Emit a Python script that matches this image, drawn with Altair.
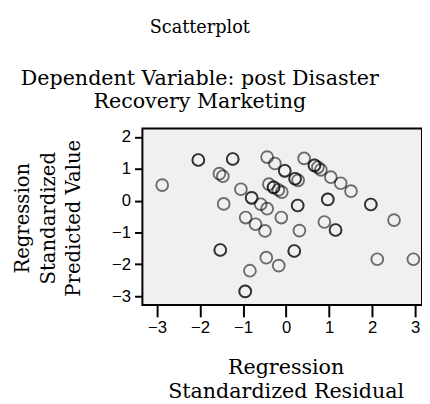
import altair as alt
import pandas as pd

# Regression standardized residual (x) and predicted value (y); repeated rows = overlapping cases
resid = [-2.88, -2.04, -2.04, -1.24, -1.24, -1.55, -1.47, -1.45, -1.53, -1.53,
         -1.05, -0.80, -0.80, -0.59, -0.44, -0.11, -0.94, -0.71, -0.49,
         -0.84, -0.95, -0.95, -0.46, -0.17,
         -0.44, -0.26, -0.03, -0.03, 0.21, 0.21, 0.28,
         -0.40, -0.29, -0.18, -0.10, -0.29,
         0.27, 0.27, 0.31, 0.19, 0.19,
         0.42, 0.66, 0.66, 0.74, 0.81, 1.04, 1.27, 1.51,
         0.97, 0.97, 0.89, 1.15, 1.15, 1.97, 1.97, 2.51, 2.12, 2.96]
pred = [0.49, 1.28, 1.28, 1.31, 1.31, 0.85, 0.77, -0.10, -1.55, -1.55,
        0.36, 0.09, 0.09, -0.11, -0.25, -0.53, -0.53, -0.74, -0.95,
        -2.20, -2.85, -2.85, -1.79, -2.04,
        1.37, 1.17, 0.94, 0.94, 0.69, 0.69, 0.64,
        0.52, 0.42, 0.34, 0.27, 0.42,
        -0.15, -0.15, -0.94, -1.58, -1.58,
        1.33, 1.11, 1.11, 1.05, 0.97, 0.74, 0.55, 0.30,
        0.04, 0.04, -0.67, -0.92, -0.92, -0.12, -0.12, -0.61, -1.84, -1.84]

x_ticks = [-3, -2, -1, 0, 1, 2, 3]
y_ticks = [2, 1, 0, -1, -2, -3]

df = pd.DataFrame({"resid": resid, "pred": pred})

serif = "DejaVu Serif"
sans = "Liberation Sans"

chart = alt.Chart(df).mark_point(
    shape="circle", filled=False, size=145, stroke="black",
    strokeWidth=1.9, strokeOpacity=0.78
).encode(
    x=alt.X("resid:Q", scale=alt.Scale(domain=[-3.34, 3.16], nice=False, zero=False),
            axis=alt.Axis(values=x_ticks, title=["Regression", "Standardized Residual"],
                          grid=False, domain=False, tickSize=12, tickWidth=2, tickColor="black",
                          labelFont=sans, labelFontSize=17, labelColor="black", labelPadding=3,
                          titleFont=serif, titleFontSize=21, titleFontWeight="normal",
                          titleColor="black", titleLineHeight=24,
                          titleX=146, titleY=70, titleBaseline="alphabetic", titleAlign="center")),
    y=alt.Y("pred:Q", scale=alt.Scale(domain=[-3.28, 2.27], nice=False, zero=False),
            axis=alt.Axis(values=y_ticks, title=["Regression", "Standardized", "Predicted Value"],
                          grid=False, domain=False, tickSize=8, tickWidth=2, tickColor="black",
                          labelFont=sans, labelFontSize=17, labelColor="black", labelPadding=4,
                          titleFont=serif, titleFontSize=20, titleFontWeight="normal",
                          titleColor="black", titleLineHeight=26,
                          titleX=-116, titleY=91, titleBaseline="alphabetic", titleAlign="center",
                          titleAngle=-90)),
).properties(
    width=285, height=180,
    autosize=alt.AutoSizeParams(type="none"),
    padding={"left": 137, "top": 119, "right": 0, "bottom": 96},
    title=alt.TitleParams(
        text="Scatterplot",
        subtitle=["Dependent Variable: post Disaster", "Recovery Marketing"],
        font=serif, fontSize=18, fontWeight="normal", color="black",
        subtitleFont=serif, subtitleFontSize=21, subtitleColor="black",
        subtitleLineHeight=23, subtitlePadding=32,
        anchor="middle", frame="group", dx=-84, offset=17,
    ),
).configure(
    background="white"
).configure_view(
    fill="#f0f0f0", stroke="black", strokeWidth=2
)

chart.save("out.html", embed_options={"renderer": "svg", "actions": False})
